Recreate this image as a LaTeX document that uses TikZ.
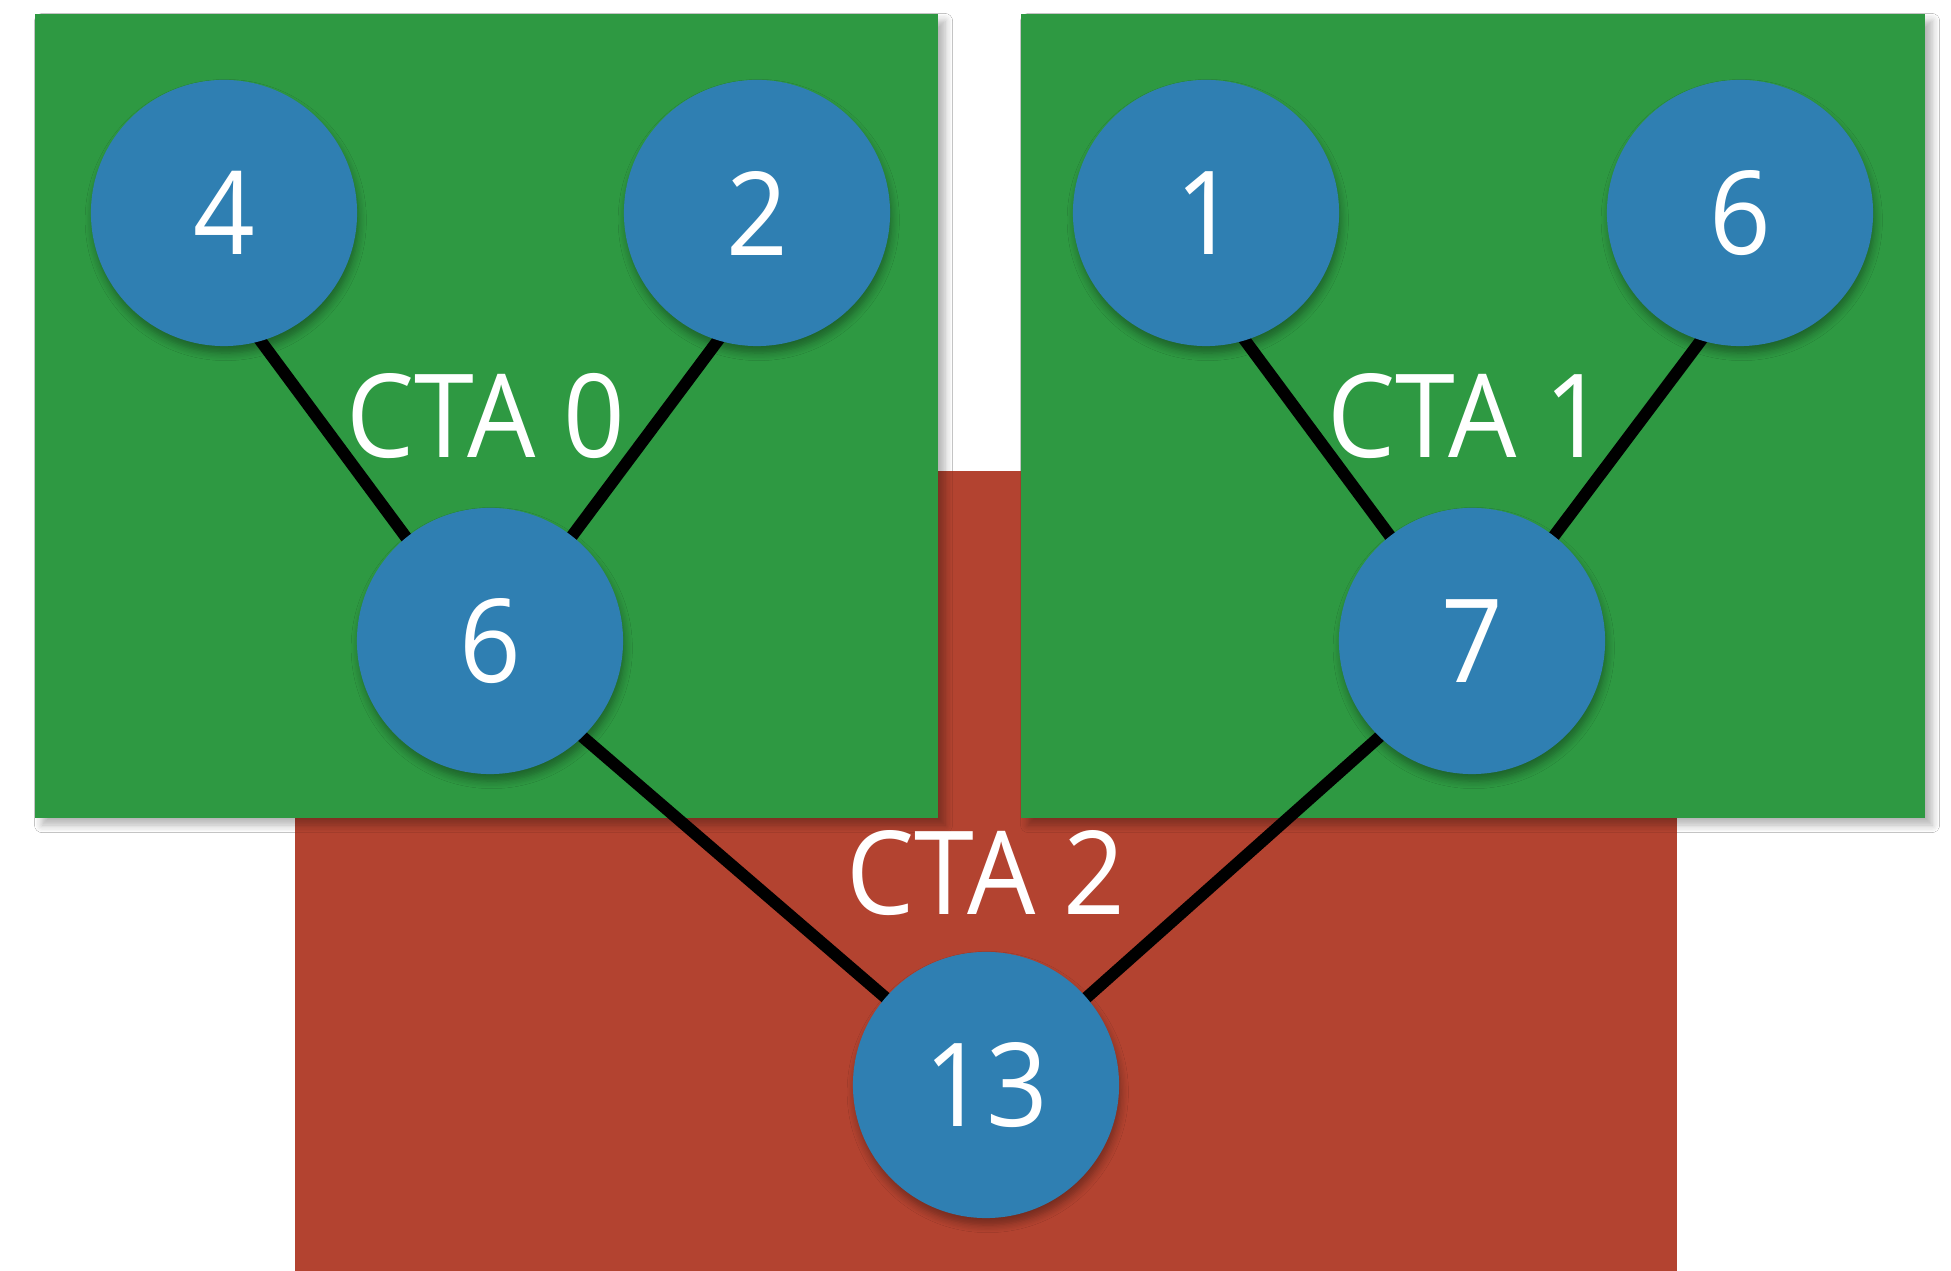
\documentclass[tikz,border=0pt]{standalone}
\usepackage{fontspec}
\setmainfont[FakeStretch=0.93]{Open Sans}
\usetikzlibrary{shadows.blur,calc}
\definecolor{ctagreen}{RGB}{46,153,66}
\definecolor{ctared}{RGB}{179,67,48}
\definecolor{nodeblue}{RGB}{47,127,178}
\tikzset{
  ctabox/.style={blur shadow={shadow xshift=2pt,shadow yshift=-2pt,shadow blur steps=6,shadow opacity=30}},
  val/.style={circle,fill=nodeblue,minimum size=2.66cm,inner sep=0pt,text=white,
    font=\fontsize{33}{33}\selectfont,
    blur shadow={shadow xshift=0.5pt,shadow yshift=-2pt,shadow blur steps=6,shadow opacity=35}},
  edge/.style={line width=0.12cm,black,shorten <=-0.12cm,shorten >=-0.12cm},
  ctalabel/.style={text=white,inner sep=0pt,font=\fontsize{33}{33}\selectfont}
}
% point on the rim of a tree node (radius 1.33cm) at a given angle
\newcommand\rimpt[2]{($(#1)+(#2:1.33cm)$)}
\begin{document}
\begin{tikzpicture}[x=0.01cm,y=-0.01cm]
\useasboundingbox (0,0) rectangle (1951,1271);
\fill[white] (0,0) rectangle (1951,1271);
% red block for the final reduction
\fill[ctared] (295,471) rectangle (1677,1271);
% green blocks for the first two CTAs
\fill[ctagreen,ctabox] (35,14) rectangle (938,818);
\fill[ctagreen,ctabox] (1021,14) rectangle (1925,818);
% labels
\node[ctalabel] (l0) at (486,416) {CTA 0};
\node[ctalabel] (l1) at (1467,416) {CTA 1};
\node[ctalabel] (l2) at (986,873) {CTA 2};
% centres of the tree nodes
\coordinate (c4) at (224,213);
\coordinate (c2) at (757,213);
\coordinate (c6a) at (490,641);
\coordinate (c1) at (1206,213);
\coordinate (c6b) at (1740,213);
\coordinate (c7) at (1472,641);
\coordinate (c13) at (986,1085);
% edges, tucked under the circles
\draw[edge] \rimpt{c4}{-74} -- \rimpt{c6a}{129};
\draw[edge] \rimpt{c2}{-107} -- \rimpt{c6a}{52};
\draw[edge] \rimpt{c1}{-73} -- \rimpt{c7}{128};
\draw[edge] \rimpt{c6b}{-107} -- \rimpt{c7}{52};
\draw[edge] \rimpt{c6a}{-46} -- \rimpt{c13}{139};
\draw[edge] \rimpt{c7}{-134} -- \rimpt{c13}{41};
% tree nodes
\node[val] (n4) at (c4) {4};
\node[val] (n2) at (c2) {2};
\node[val] (n6a) at (c6a) {6};
\node[val] (n1) at (c1) {1};
\node[val] (n6b) at (c6b) {6};
\node[val] (n7) at (c7) {7};
\node[val] (n13) at (c13) {13};
\end{tikzpicture}
\end{document}
